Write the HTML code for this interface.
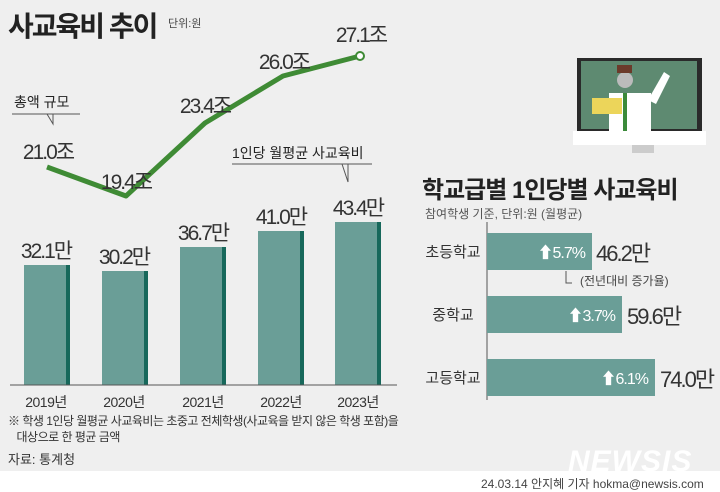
<!DOCTYPE html><html><head><meta charset="utf-8"><style>
body{margin:0;width:720px;height:491px;overflow:hidden;background:#fff;font-family:"Liberation Sans","Noto Sans CJK KR",sans-serif;color:#333}
.bg{position:absolute;left:0;top:0;width:720px;height:471px;background:#efefef}
.t{position:absolute;white-space:nowrap}
</style></head><body><div class="bg"></div>
<svg width="720" height="491" style="position:absolute;left:0;top:0" font-family="Liberation Sans,Noto Sans CJK KR,sans-serif">
<g fill="#6a9e97">
<rect x="24" y="265" width="46" height="120"/><rect x="102" y="271" width="46" height="114"/><rect x="180" y="247" width="46" height="138"/><rect x="258" y="231" width="46" height="154"/><rect x="335" y="222" width="46" height="163"/>
</g>
<g fill="#17685b">
<rect x="66" y="265" width="4" height="120"/><rect x="144" y="271" width="4" height="114"/><rect x="222" y="247" width="4" height="138"/><rect x="300" y="231" width="4" height="154"/><rect x="377" y="222" width="4" height="163"/>
</g>
<line x1="10" y1="385" x2="397" y2="385" stroke="#555" stroke-width="1"/>
<polyline points="47,167 126,196 205,123 283,76 360,56" fill="none" stroke="#3f8b35" stroke-width="5" stroke-linejoin="round"/>
<circle cx="360" cy="56" r="4" fill="#fff" stroke="#3f8b35" stroke-width="2"/>
<polyline points="12,114 80,114" stroke="#555" fill="none"/><polyline points="47,114 53,124 53,114" stroke="#555" fill="none"/>
<polyline points="232,164 372,164" stroke="#555" fill="none"/><polyline points="342,164 348,182 348,164" stroke="#555" fill="none"/>
<g font-size="21" fill="#333" text-anchor="middle" letter-spacing="-2">
<text x="48" y="159">21.0조</text><text x="126" y="189">19.4조</text><text x="205" y="113">23.4조</text><text x="284" y="69">26.0조</text><text x="361" y="42">27.1조</text>
<text x="46" y="258">32.1만</text><text x="124" y="264">30.2만</text><text x="203" y="240">36.7만</text><text x="281" y="224">41.0만</text><text x="358" y="215">43.4만</text>
</g>
<g font-size="14" fill="#333" text-anchor="middle" letter-spacing="-0.5"><text x="46" y="407">2019년</text><text x="124" y="407">2020년</text><text x="203" y="407">2021년</text><text x="281" y="407">2022년</text><text x="358" y="407">2023년</text></g>
<rect x="577" y="58" width="125" height="73" fill="#2a2a2a"/><rect x="581" y="61" width="116" height="68" fill="#5e8a71"/>
<rect x="573" y="131" width="133" height="14" fill="#fff"/><rect x="632" y="145" width="22" height="8" fill="#ccc"/>
<rect x="609" y="93" width="42" height="38" fill="#fff"/><circle cx="625" cy="80" r="8" fill="#bbb"/><rect x="617" y="65" width="15" height="8" fill="#6b3a2a"/>
<rect x="623" y="93" width="4" height="38" fill="#3b8a3a"/><rect x="592" y="98" width="30" height="16" fill="#ecd55a"/><path d="M648 100 L664 72 L670 76 L656 104Z" fill="#fff"/>
<line x1="487" y1="222" x2="487" y2="400" stroke="#555"/>
<g fill="#6a9e97"><rect x="487" y="233" width="105" height="37"/><rect x="487" y="296" width="135" height="37"/><rect x="487" y="359" width="168" height="37"/></g>
<polyline points="566,271 566,283 572,283" stroke="#555" fill="none"/>
<g font-size="16" fill="#fff" text-anchor="end" letter-spacing="-1"><text x="585" y="258">⬆5.7%</text><text x="615" y="321">⬆3.7%</text><text x="648" y="384">⬆6.1%</text></g>
<g font-size="22" fill="#333" letter-spacing="-2"><text x="596" y="261">46.2만</text><text x="627" y="324">59.6만</text><text x="660" y="387">74.0만</text></g>
<g font-size="15" fill="#333" text-anchor="middle"><text x="453" y="257">초등학교</text><text x="453" y="320">중학교</text><text x="453" y="383">고등학교</text></g>
<text x="580" y="285" font-size="12" fill="#444">(전년대비 증가율)</text>
</svg>
<div class="t" style="left:8px;top:5px;font-size:28px;font-weight:bold;color:#222;letter-spacing:-2px">사교육비 추이</div>
<div class="t" style="left:168px;top:15px;font-size:11px;color:#444">단위:원</div>
<div class="t" style="left:14px;top:92px;font-size:14px;color:#222">총액 규모</div>
<div class="t" style="left:232px;top:143px;font-size:14px;color:#222">1인당 월평균 사교육비</div>
<div class="t" style="left:422px;top:170px;font-size:24px;font-weight:bold;color:#222;letter-spacing:-1px">학교급별 1인당별 사교육비</div>
<div class="t" style="left:425px;top:205px;font-size:12px;color:#555">참여학생 기준, 단위:원 (월평균)</div>
<div class="t" style="left:8px;top:413px;font-size:12px;color:#333;line-height:16px;letter-spacing:-0.5px">※ 학생 1인당 월평균 사교육비는 초중고 전체학생(사교육을 받지 않은 학생 포함)을<br>&nbsp;&nbsp;&nbsp;대상으로 한 평균 금액</div>
<div class="t" style="left:8px;top:449px;font-size:13px;color:#333">자료: 통계청</div>
<div class="t" style="left:568px;top:445px;font-size:30px;font-weight:bold;font-style:italic;color:#fff;letter-spacing:1px">NEWSIS</div>
<div class="t" style="left:481px;top:475px;font-size:12px;color:#444">24.03.14 안지혜 기자 hokma@newsis.com</div>
</body></html>
